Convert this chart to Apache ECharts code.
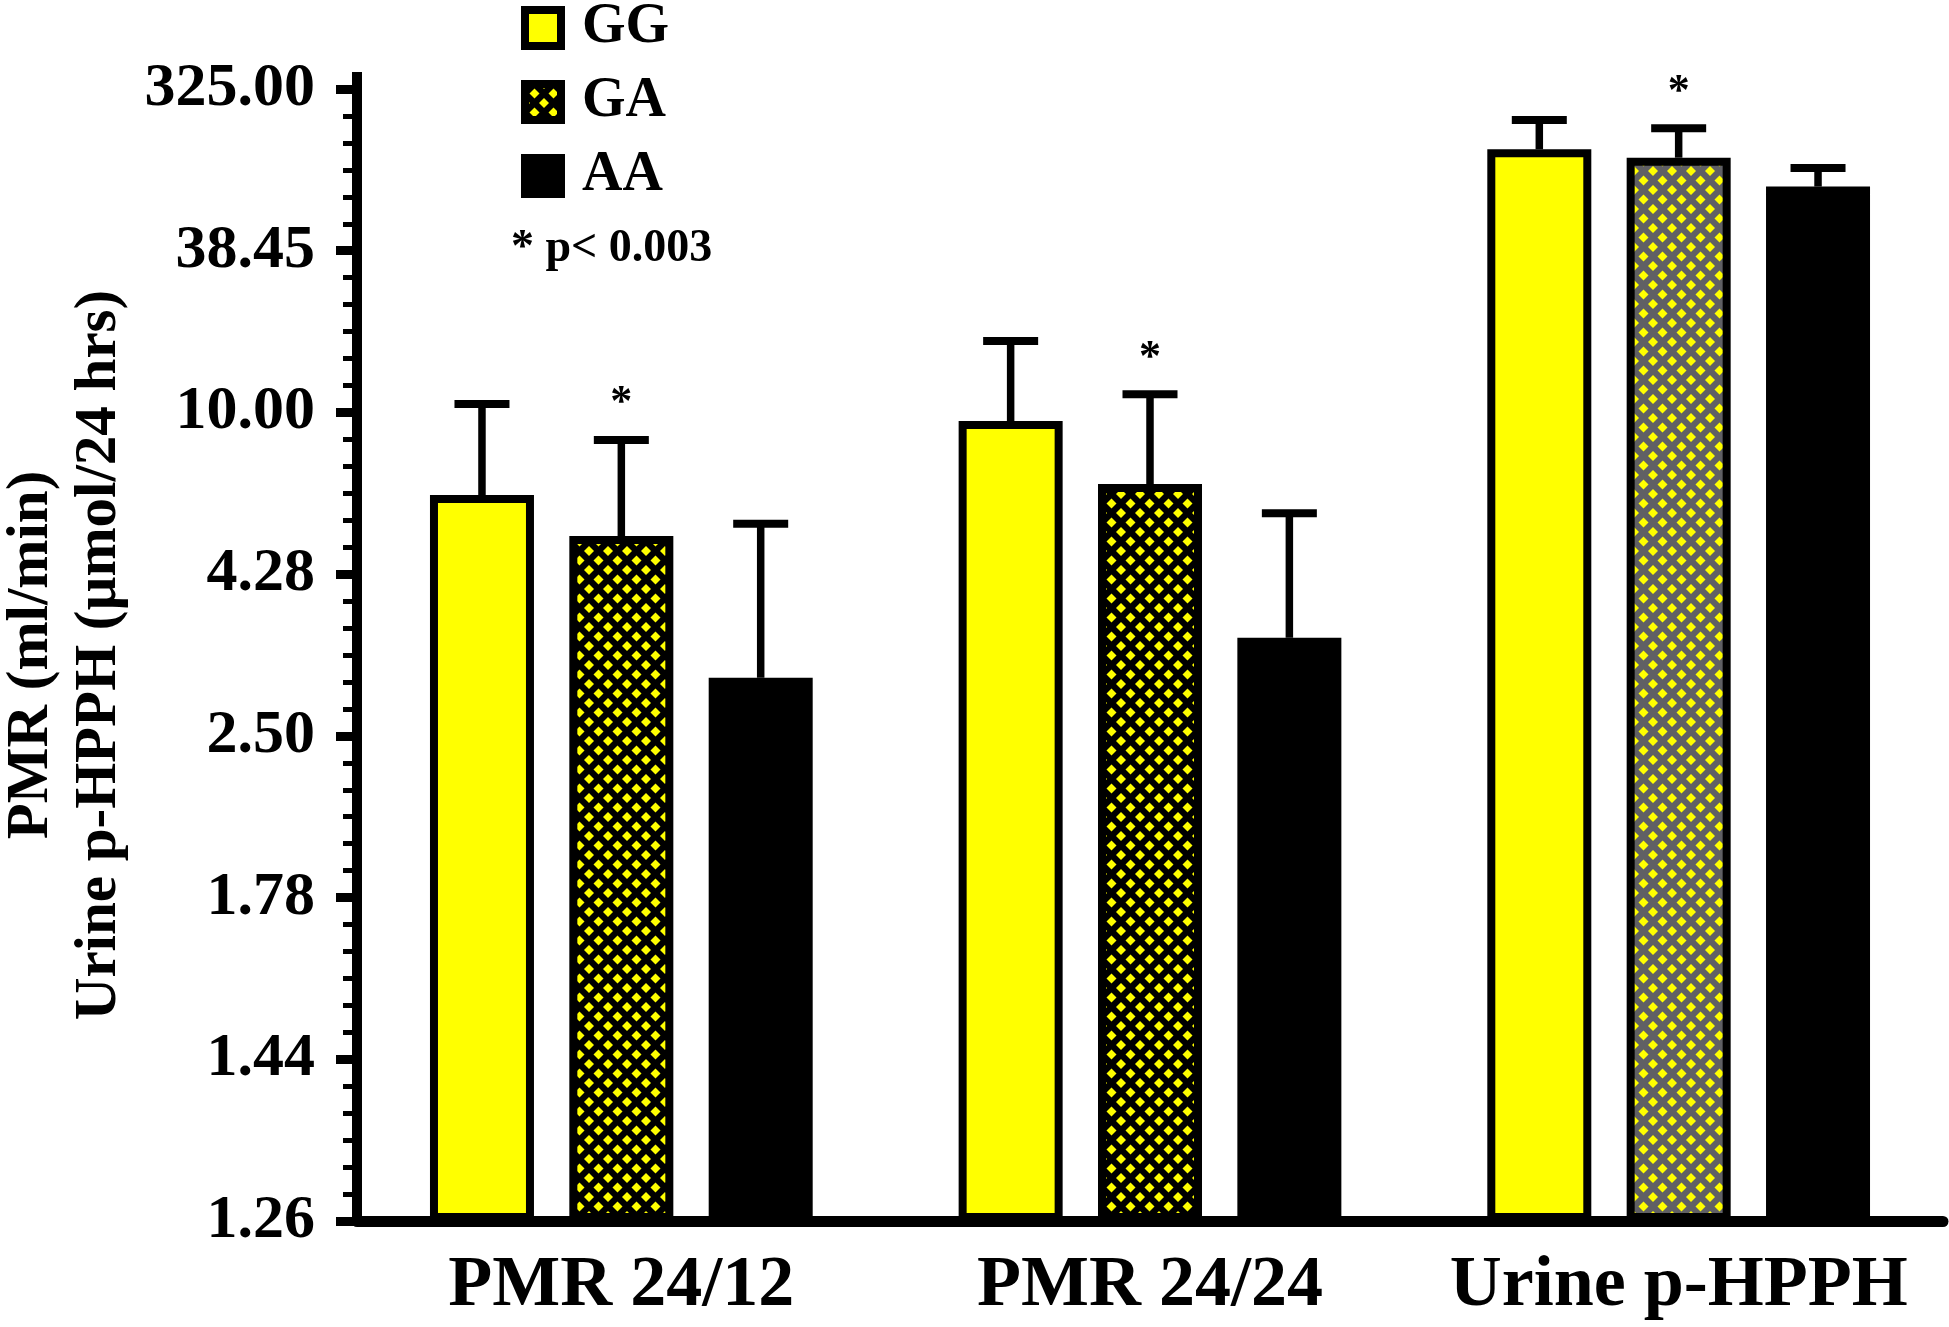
<!DOCTYPE html>
<html>
<head>
<meta charset="utf-8">
<title>PMR and urine p-HPPH by genotype</title>
<script src="https://cdn.jsdelivr.net/npm/echarts@6/dist/echarts.min.js"></script>
<style>
  html, body { margin: 0; padding: 0; background: #fff; }
  #main { width: 1949px; height: 1327px; }
</style>
</head>
<body>
<div id="main"></div>
<script>
// values: bar mean and top of the error bar
var categories = ['PMR 24/12', 'PMR 24/24', 'Urine p-HPPH'];
var genotypes = ['GG', 'GA', 'AA'];
var ggMean  = [6.17, 9.46, 130.5];
var ggUpper = [10.57, 16.8, 199.5];
var gaMean  = [5.05, 6.54, 116.3];
var gaUpper = [8.40, 11.30, 176.1];
var aaMean  = [2.95, 3.36, 79.9];
var aaUpper = [5.35, 5.63, 101.4];
var gaStar  = [true, true, true];   // * p< 0.003
var yTickLabels = ['1.26', '1.44', '1.78', '2.50', '4.28', '10.00', '38.45', '325.00'];

var FONT = 'Liberation Serif, Times New Roman, serif';
var BAR_W = 104;
var BAR_GAP = 0.34;
var BAR_STEP = BAR_W * (1 + BAR_GAP);

// the y axis is log(log): 1.26 .. 325 evenly spaced
function tf(v) {
  return Math.log10(Math.log10(v)) + 1;
}

// yellow diamonds on a dark background
function diamondPattern(bg, fg) {
  var p = 19, r = 5;
  var cv = document.createElement('canvas');
  cv.width = p; cv.height = p;
  var ctx = cv.getContext('2d');
  ctx.fillStyle = bg;
  ctx.fillRect(0, 0, p, p);
  ctx.fillStyle = fg;
  var centers = [[0, 0], [p, 0], [0, p], [p, p], [p / 2, p / 2]];
  centers.forEach(function (c) {
    ctx.beginPath();
    ctx.moveTo(c[0], c[1] - r);
    ctx.lineTo(c[0] + r, c[1]);
    ctx.lineTo(c[0], c[1] + r);
    ctx.lineTo(c[0] - r, c[1]);
    ctx.closePath();
    ctx.fill();
  });
  return { image: cv, repeat: 'repeat' };
}

var blackDiamonds = diamondPattern('#000000', '#ffff00');
var greyDiamonds = diamondPattern('#606064', '#ffff00');

var means = [ggMean, gaMean, aaMean];
var uppers = [ggUpper, gaUpper, aaUpper];

var errData = [];
for (var k = 0; k < 3; k++) {
  for (var c = 0; c < categories.length; c++) {
    var star = (k === 1 && gaStar[c]) ? 1 : 0;
    errData.push([c, k, tf(means[k][c]), tf(uppers[k][c]), star]);
  }
}

var gaData = gaMean.map(function (v, i) {
  if (i === 2) return { value: tf(v), itemStyle: { color: greyDiamonds } };
  return tf(v);
});

var myChart = echarts.init(document.getElementById('main'));

var option = {
  animation: false,
  backgroundColor: '#ffffff',
  grid: { left: 357, right: 6, top: 89, bottom: 106, containLabel: false, outerBoundsMode: 'none' },
  legend: {
    data: genotypes,
    orient: 'vertical',
    left: 521,
    top: 0,
    padding: 0,
    itemWidth: 36,
    itemHeight: 36,
    itemGap: 18,
    icon: 'rect',
    itemStyle: { borderColor: '#000', borderWidth: 8 },
    textStyle: {
      fontFamily: FONT, fontSize: 56, fontWeight: 'bold', color: '#000',
      lineHeight: 44, padding: [0, 0, 0, 16]
    },
    selectedMode: false
  },
  graphic: [{
    type: 'text',
    left: 511,
    top: 226,
    style: {
      text: '* p< 0.003',
      font: 'bold 46px ' + FONT,
      fill: '#000'
    }
  }],
  xAxis: {
    type: 'category',
    data: categories,
    axisLine: { lineStyle: { color: '#000', width: 11 } },
    axisTick: { alignWithLabel: true, length: 20, lineStyle: { color: '#000', width: 10 } },
    axisLabel: {
      interval: 0, hideOverlap: false,
      fontFamily: FONT, fontSize: 72, fontWeight: 'bold', color: '#000', margin: 29
    },
    splitLine: { show: false }
  },
  yAxis: {
    type: 'value',
    min: 0,
    max: 1.4,
    interval: 0.2,
    name: 'PMR (ml/min)\nUrine p-HPPH (\u00b5mol/24 hrs)',
    nameLocation: 'middle',
    nameRotate: 90,
    nameGap: 220,
    nameTextStyle: {
      fontFamily: FONT, fontSize: 59, fontWeight: 'bold', color: '#000', lineHeight: 68
    },
    axisLine: {
      show: true,
      symbol: ['none', 'rect'],
      symbolSize: [10, 34],
      lineStyle: { color: '#000', width: 10 }
    },
    axisTick: { show: true, length: 21, lineStyle: { color: '#000', width: 9 } },
    minorTick: { show: true, splitNumber: 6, length: 14, lineStyle: { color: '#000', width: 5 } },
    axisLabel: {
      fontFamily: FONT, fontSize: 62, fontWeight: 'bold', color: '#000', margin: 42,
      formatter: function (val) {
        var i = Math.round(val / 0.2);
        return yTickLabels[i] !== undefined ? yTickLabels[i] : '';
      }
    },
    splitLine: { show: false }
  },
  series: [
    {
      name: 'GG', type: 'bar', barWidth: BAR_W, barGap: (BAR_GAP * 100) + '%',
      itemStyle: { color: '#ffff00', borderColor: '#000', borderWidth: 8 },
      data: ggMean.map(tf)
    },
    {
      name: 'GA', type: 'bar', barWidth: BAR_W, barGap: (BAR_GAP * 100) + '%',
      itemStyle: { color: blackDiamonds, borderColor: '#000', borderWidth: 8 },
      data: gaData
    },
    {
      name: 'AA', type: 'bar', barWidth: BAR_W, barGap: (BAR_GAP * 100) + '%',
      itemStyle: { color: '#000000', borderColor: '#000', borderWidth: 8 },
      data: aaMean.map(tf)
    },
    {
      name: 'error', type: 'custom', z: 5,
      encode: { x: 0, y: [2, 3] },
      data: errData,
      renderItem: function (params, api) {
        var cat = api.value(0), k = api.value(1);
        var x = api.coord([cat, 0])[0] + (k - 1) * BAR_STEP;
        var y0 = api.coord([cat, api.value(2)])[1];
        var y1 = api.coord([cat, api.value(3)])[1];
        var children = [
          { type: 'line', shape: { x1: x, y1: y0, x2: x, y2: y1 },
            style: { stroke: '#000', lineWidth: 7.5 } },
          { type: 'line', shape: { x1: x - 27.5, y1: y1, x2: x + 27.5, y2: y1 },
            style: { stroke: '#000', lineWidth: 8 } }
        ];
        if (api.value(4)) {
          children.push({
            type: 'text', x: x, y: y1 - 36,
            style: { text: '*', font: 'bold 44px ' + FONT, fill: '#000',
                     align: 'center', verticalAlign: 'middle' }
          });
        }
        return { type: 'group', children: children };
      }
    }
  ]
};

myChart.setOption(option);
</script>
</body>
</html>
